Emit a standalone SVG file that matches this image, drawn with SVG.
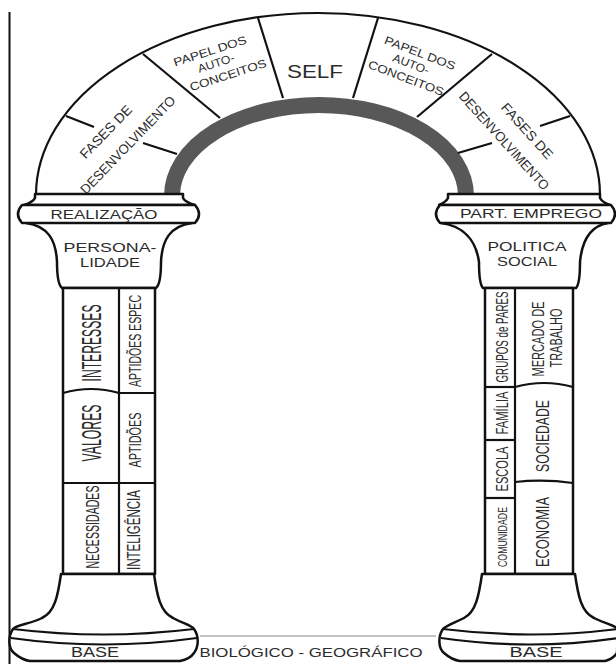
<svg xmlns="http://www.w3.org/2000/svg" width="616" height="664" viewBox="0 0 616 664">
<style>
.o{fill:#fff;stroke:#111;stroke-width:2.5;stroke-linejoin:round}
.l{fill:none;stroke:#111;stroke-width:2.2}
.t{font-family:"Liberation Sans",Arial,sans-serif;fill:#2b2b2b;text-anchor:middle}
.c{dominant-baseline:central}
</style>
<rect width="616" height="664" fill="#fff"/>
<line x1="9.5" y1="12" x2="9.5" y2="664" stroke="#111" stroke-width="2"/>

<g id="arch">
<path class="l" d="M36,195 A282,182 0 0 1 600,195"/>
<path d="M172,196 A147,91 0 0 1 466,196" fill="none" stroke="#585858" stroke-width="16"/>
</g>

<g id="connectors">
<line class="l" x1="66" y1="116" x2="94" y2="127"/>
<line class="l" x1="143" y1="143" x2="177" y2="154"/>
<line class="l" x1="143" y1="54" x2="220" y2="118"/>
<line class="l" x1="258" y1="18" x2="283" y2="98"/>
<line class="l" x1="378" y1="18" x2="353" y2="98"/>
<line class="l" x1="492" y1="54" x2="417" y2="117"/>
<line class="l" x1="570" y1="116" x2="540" y2="126"/>
<line class="l" x1="492" y1="143" x2="458" y2="153"/>
</g>

<g id="self"><text class="t" x="315" y="78" font-size="18" textLength="56" lengthAdjust="spacingAndGlyphs">SELF</text></g>

<g id="papel-left" class="t" font-size="11.5">
<text class="c" transform="translate(210,51) rotate(-18)" textLength="76" lengthAdjust="spacingAndGlyphs">PAPEL DOS</text>
<text class="c" transform="translate(216,63) rotate(-18)" textLength="38" lengthAdjust="spacingAndGlyphs">AUTO-</text>
<text class="c" transform="translate(228,75) rotate(-18)" textLength="80" lengthAdjust="spacingAndGlyphs">CONCEITOS</text>
</g>
<g id="papel-right" class="t" font-size="11.5">
<text class="c" transform="translate(420,53) rotate(21)" textLength="75" lengthAdjust="spacingAndGlyphs">PAPEL DOS</text>
<text class="c" transform="translate(411,64) rotate(21)" textLength="38" lengthAdjust="spacingAndGlyphs">AUTO-</text>
<text class="c" transform="translate(406,78) rotate(21)" textLength="80" lengthAdjust="spacingAndGlyphs">CONCEITOS</text>
</g>
<g id="fases-left" class="t" font-size="13.5">
<text class="c" transform="translate(106,132) rotate(-46)" textLength="68" lengthAdjust="spacingAndGlyphs">FASES DE</text>
<text class="c" transform="translate(128,145) rotate(-46)" textLength="130" lengthAdjust="spacingAndGlyphs">DESENVOLVIMENTO</text>
</g>
<g id="fases-right" class="t" font-size="13.5">
<text class="c" transform="translate(527,131) rotate(48)" textLength="70" lengthAdjust="spacingAndGlyphs">FASES DE</text>
<text class="c" transform="translate(504,141) rotate(48)" textLength="127" lengthAdjust="spacingAndGlyphs">DESENVOLVIMENTO</text>
</g>

<g id="left-capital">
<path class="o" d="M35,194 L183,194 L183,198 Q185,202 195,205 L24,205 Q33,202 35,198 Z"/>
<path class="o" d="M26,223 C48,226 56,240 57,262 Q57,284 62,288 L156,288 Q161,284 161,262 C162,240 170,226 192,223"/>
<path class="o" d="M22,205 L195,205 Q203,214 195,223 L22,223 Q14,214 22,205 Z"/>
<text class="t" x="104" y="219" font-size="13" textLength="107" lengthAdjust="spacingAndGlyphs">REALIZAÇÃO</text>
<text class="t" x="110" y="252" font-size="13" textLength="93" lengthAdjust="spacingAndGlyphs">PERSONA-</text>
<text class="t" x="110" y="267" font-size="13" textLength="60" lengthAdjust="spacingAndGlyphs">LIDADE</text>
</g>

<g id="left-column">
<rect class="o" x="63" y="288" width="92" height="286"/>
<line class="l" x1="119" y1="288" x2="119" y2="574"/>
<path class="l" d="M63,393 Q91,385 119,393"/>
<line class="l" x1="119" y1="393" x2="155" y2="393"/>
<line class="l" x1="63" y1="483" x2="155" y2="483"/>
<g class="t">
<text class="c" transform="translate(92,343) rotate(-90)" font-size="27" textLength="77" lengthAdjust="spacingAndGlyphs">INTERESSES</text>
<text class="c" transform="translate(135,341) rotate(-90)" font-size="16" textLength="92" lengthAdjust="spacingAndGlyphs">APTIDÕES ESPEC</text>
<text class="c" transform="translate(92,433) rotate(-90)" font-size="27" textLength="57" lengthAdjust="spacingAndGlyphs">VALORES</text>
<text class="c" transform="translate(135,440) rotate(-90)" font-size="16" textLength="55" lengthAdjust="spacingAndGlyphs">APTIDÕES</text>
<text class="c" transform="translate(93,527) rotate(-90)" font-size="18" textLength="83" lengthAdjust="spacingAndGlyphs">NECESSIDADES</text>
<text class="c" transform="translate(134,530) rotate(-90)" font-size="18" textLength="80" lengthAdjust="spacingAndGlyphs">INTELIGÊNCIA</text>
</g>
</g>

<g id="left-base">
<path class="o" d="M61,574 C58,595 55,612 42,618 C30,624 16,625 13,629 C8,636 8,648 14,653 Q22,660 30,661 L180,661 Q190,659 194,653 C199,646 199,636 194,629 C191,625 184,624 173,618 C160,612 157,595 154,574 Z"/>
<path class="l" d="M13,629 Q103,640 194,629"/>
<path class="l" d="M11,638 Q103,651 197,638"/>
<text class="t" x="95" y="657" font-size="14" textLength="48" lengthAdjust="spacingAndGlyphs">BASE</text>
</g>

<g id="right-capital">
<path class="o" d="M448,194 L600,194 L600,198 Q602,202 610,205 L439,205 Q446,202 448,198 Z"/>
<path class="o" d="M441,223 C463,226 476,240 479,262 Q479,284 483,288 L576,288 Q580,284 580,262 C582,240 590,226 608,223"/>
<path class="o" d="M440,205 L611,205 Q619,214 611,223 L440,223 Q432,214 440,205 Z"/>
<text class="t" x="531" y="218" font-size="13" textLength="142" lengthAdjust="spacingAndGlyphs">PART. EMPREGO</text>
<text class="t" x="527" y="251" font-size="12.5" textLength="79" lengthAdjust="spacingAndGlyphs">POLITICA</text>
<text class="t" x="527" y="266" font-size="12.5" textLength="60" lengthAdjust="spacingAndGlyphs">SOCIAL</text>
</g>

<g id="right-column">
<rect class="o" x="485" y="288" width="88" height="286"/>
<line class="l" x1="515" y1="288" x2="515" y2="574"/>
<line class="l" x1="485" y1="387" x2="515" y2="387"/>
<line class="l" x1="485" y1="440" x2="515" y2="440"/>
<line class="l" x1="485" y1="498" x2="515" y2="498"/>
<path class="l" d="M515,387 Q544,379 573,387"/>
<path class="l" d="M515,482 Q544,479 573,483"/>
<g class="t">
<text class="c" transform="translate(502,337) rotate(-90)" font-size="16" textLength="91" lengthAdjust="spacingAndGlyphs">GRUPOS de PARES</text>
<text class="c" transform="translate(502,413) rotate(-90)" font-size="16" textLength="43" lengthAdjust="spacingAndGlyphs">FAMÍLIA</text>
<text class="c" transform="translate(502,469) rotate(-90)" font-size="16" textLength="45" lengthAdjust="spacingAndGlyphs">ESCOLA</text>
<text class="c" transform="translate(502,537) rotate(-90)" font-size="13" textLength="60" lengthAdjust="spacingAndGlyphs">COMUNIDADE</text>
<text class="c" transform="translate(538,339) rotate(-90)" font-size="17" textLength="75" lengthAdjust="spacingAndGlyphs">MERCADO DE</text>
<text class="c" transform="translate(556,338) rotate(-90)" font-size="17" textLength="59" lengthAdjust="spacingAndGlyphs">TRABALHO</text>
<text class="c" transform="translate(543,436) rotate(-90)" font-size="18" textLength="72" lengthAdjust="spacingAndGlyphs">SOCIEDADE</text>
<text class="c" transform="translate(543,532) rotate(-90)" font-size="18" textLength="70" lengthAdjust="spacingAndGlyphs">ECONOMIA</text>
</g>
</g>

<g id="right-base">
<path class="o" d="M482,574 C479,595 476,612 464,618 C452,624 447,625 443,629 C438,636 438,648 444,653 Q452,660 460,661 L605,661 Q613,659 617,653 L618,629 C614,625 606,624 594,618 C581,612 578,595 575,574 Z"/>
<path class="l" d="M443,629 Q530,640 618,629"/>
<path class="l" d="M441,638 Q530,651 618,638"/>
<text class="t" x="536" y="657" font-size="14" textLength="53" lengthAdjust="spacingAndGlyphs">BASE</text>
</g>

<g id="ground">
<line x1="200" y1="636" x2="436" y2="636" stroke="#888" stroke-width="1"/>
<text class="t" x="311" y="657" font-size="12.5" textLength="223" lengthAdjust="spacingAndGlyphs">BIOLÓGICO - GEOGRÁFICO</text>
</g>
</svg>
